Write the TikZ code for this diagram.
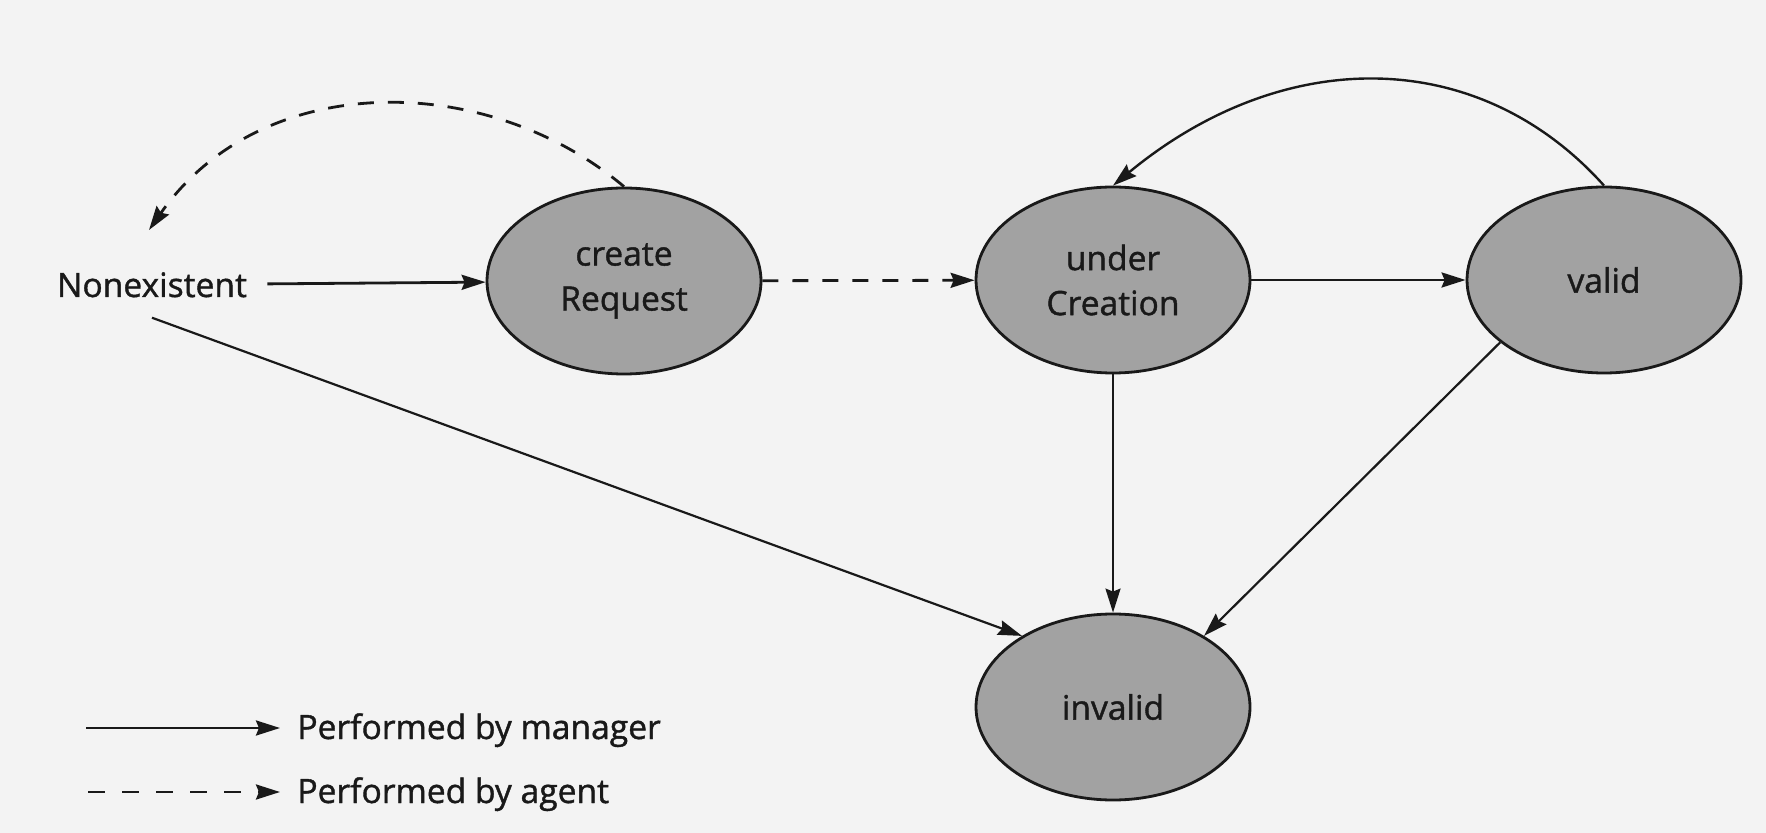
\documentclass[tikz,border=0pt]{standalone}
\usepackage{fontspec}
\setmainfont[FakeBold=1.2]{Open Sans}
\usetikzlibrary{shapes.geometric,arrows.meta}
\definecolor{bg}{RGB}{243,243,243}
\definecolor{st}{RGB}{162,162,162}
\definecolor{ink}{RGB}{25,25,25}
\begin{document}
\begin{tikzpicture}[x=0.5pt,y=-0.5pt,
  txt/.style={font=\fontsize{16.8}{22.5}\selectfont,text=ink},
  state/.style={txt,ellipse,draw=ink,line width=1.4pt,fill=st,minimum width=137pt,minimum height=93pt,inner sep=0pt,align=center},
  tip/.style={-{Stealth[length=12pt,width=7.5pt,inset=1.5pt]}},
  mgr/.style={tip,line width=1.4pt,draw=ink},
  thin/.style={tip,line width=1.1pt,draw=ink},
  agt/.style={tip,line width=1.4pt,draw=ink,dash pattern=on 8pt off 7pt},
]
\fill[bg] (0,0) rectangle (1766,833);
\useasboundingbox (0,0) rectangle (1766,833);

% states
\node[txt,inner sep=10pt,anchor=base] (nonex) at (152,297) {Nonexistent};
\node[state] (cr) at (624,281) {create\\Request};
\node[state] (uc) at (1113,280) {under\\Creation};
\node[state] (va) at (1604,280) {valid};
\node[state] (inv) at (1113,707) {invalid};

% free ends / control points
\coordinate (ret) at (149,230);
\coordinate (d1) at (485,70);
\coordinate (d2) at (261,70);
\coordinate (s1) at (1478,45);
\coordinate (s2) at (1283,45);

% connectors
\draw[mgr] (nonex) -- (cr);
\draw[agt] (cr) -- (uc);
\draw[mgr] (uc) -- (va);
\draw[agt] (cr.north) .. controls (d1) and (d2) .. (ret);
\draw[mgr,line width=1.2pt] (va.north) .. controls (s1) and (s2) .. (uc.north);
\draw[thin] (nonex.south) -- (inv.142);
\draw[thin] (uc) -- (inv);
\draw[thin] (va.211) -- (inv.38);

% legend
\coordinate (m1) at (86,728);
\coordinate (m2) at (280,728);
\coordinate (a1) at (88,792);
\coordinate (a2) at (280,792);
\draw[mgr] (m1) -- (m2);
\draw[agt,dash pattern=on 8.5pt off 8.5pt] (a1) -- (a2);
\node[txt,anchor=base west,inner sep=0pt] (mt) at (297,739) {Performed by manager};
\node[txt,anchor=base west,inner sep=0pt] (at) at (297,803) {Performed by agent};
\end{tikzpicture}
\end{document}
